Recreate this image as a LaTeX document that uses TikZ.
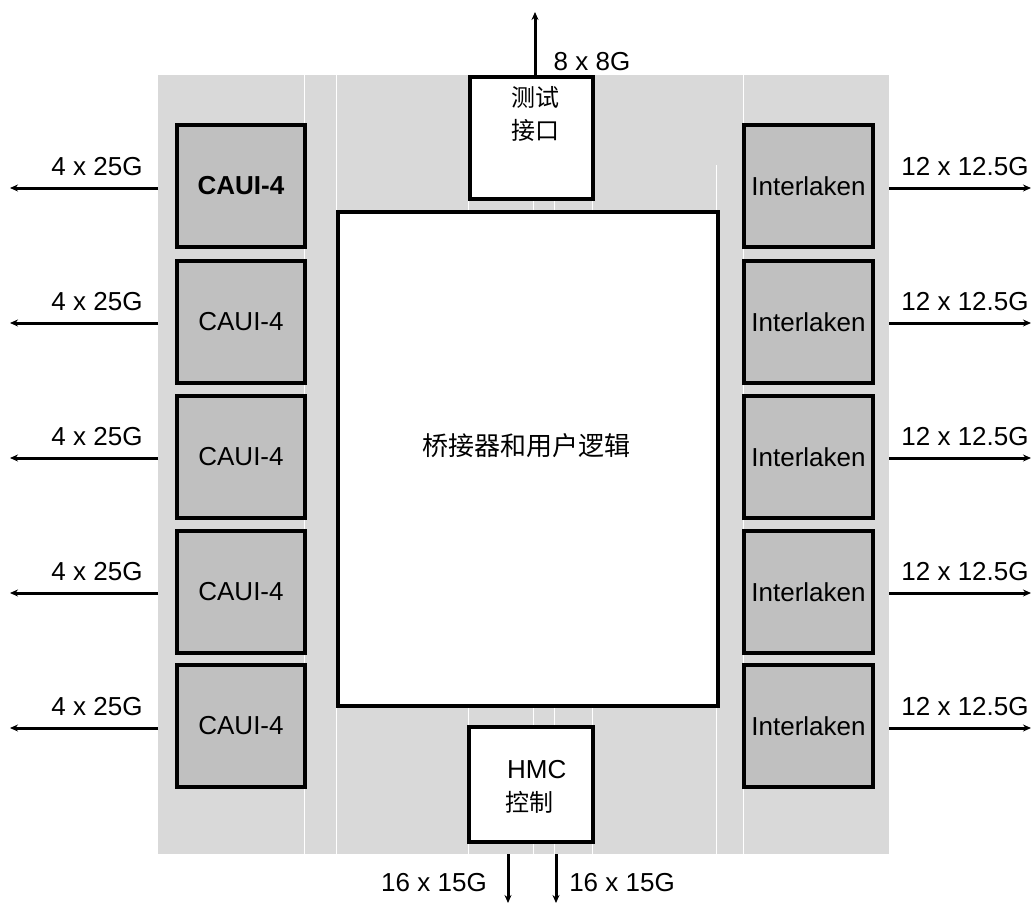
\documentclass[tikz,border=0pt]{standalone}
\usepackage{fontspec}
\setmainfont{Liberation Sans}
\newfontfamily\cjk{Noto Sans CJK SC}
\usetikzlibrary{arrows.meta}
\definecolor{bggray}{HTML}{D9D9D9}
\definecolor{boxgray}{HTML}{C0C0C0}
\tikzset{
  gbox/.style={draw=black, line width=3.5pt, fill=boxgray, minimum width=128pt, minimum height=122pt, inner sep=0pt, font=\fontsize{26}{31}\selectfont},
  wbox/.style={draw=black, line width=3.5pt, fill=white, inner sep=0pt},
  lbl/.style={font=\fontsize{26}{31}\selectfont, inner sep=0pt},
  cjklbl/.style={font=\fontsize{24}{33}\cjk, inner sep=0pt},
  link/.style={line width=3pt, -{Stealth[length=8pt,width=7pt]}},
  gap/.style={white, line width=0.9pt}
}
\begin{document}
\begin{tikzpicture}[x=1pt,y=-1pt]
\useasboundingbox (0,0) rectangle (1034,906);
\fill[bggray] (158,75) rectangle (889,854);
% faint white seams in the background
\foreach \xx in {304,336,743} \draw[gap] (\xx,75) -- (\xx,854);
\draw[gap] (716,165) -- (716,854);
\foreach \xx in {468,533,554,592} {\draw[gap] (\xx,199) -- (\xx,212); \draw[gap] (\xx,706) -- (\xx,854);}

% main block
\node[wbox, minimum width=380pt, minimum height=494pt] (main) at (528,459) {};
\node[cjklbl, font=\fontsize{26}{30}\cjk] (mainlbl) at (526,446) {桥接器和用户逻辑};

% test interface
\node[wbox, minimum width=123pt, minimum height=122pt] (test) at (531.5,138) {};
\node[cjklbl, align=center] (testlbl) at (535,114) {测试\\接口};

% HMC
\node[wbox, minimum width=124pt, minimum height=115pt] (hmc) at (531,784.5) {};
\node[lbl, anchor=west] (hmclbl) at (507,770) {HMC};
\node[cjklbl, anchor=west] (hmclbl2) at (505,802) {控制};

% CAUI boxes
\node[gbox, font=\fontsize{26}{31}\selectfont\bfseries] (c1) at (241,186) {CAUI-4};
\node[gbox] (c2) at (241,322) {CAUI-4};
\node[gbox] (c3) at (241,457) {CAUI-4};
\node[gbox] (c4) at (241,592) {CAUI-4};
\node[gbox] (c5) at (241,726) {CAUI-4};

% Interlaken boxes
\node[gbox, minimum width=129pt] (i1) at (808.5,186) {Interlaken};
\node[gbox, minimum width=129pt] (i2) at (808.5,322) {Interlaken};
\node[gbox, minimum width=129pt] (i3) at (808.5,457) {Interlaken};
\node[gbox, minimum width=129pt] (i4) at (808.5,592) {Interlaken};
\node[gbox, minimum width=129pt] (i5) at (808.5,726) {Interlaken};

% side links
\foreach \n/\yy in {1/188,2/323,3/458,4/593,5/728} {
  \coordinate (ls\n) at (158,\yy);
  \coordinate (le\n) at (10,\yy);
  \draw[link] (ls\n) -- (le\n);
  \node[lbl] (ll\n) at (97,\yy-21) {4 x 25G};
  \coordinate (rs\n) at (889,\yy);
  \coordinate (re\n) at (1031,\yy);
  \draw[link] (rs\n) -- (re\n);
  \node[lbl] (rl\n) at (965,\yy-21) {12 x 12.5G};
}

% top link
\coordinate (tend) at (535,12);
\draw[link] (test.north -| tend) -- (tend);
\node[lbl] (tl) at (592,62) {8 x 8G};

% bottom links
\coordinate (b1s) at (508,854);
\coordinate (b1e) at (508,903);
\coordinate (b2s) at (556,854);
\coordinate (b2e) at (556,903);
\draw[link] (b1s) -- (b1e);
\draw[link] (b2s) -- (b2e);
\node[lbl] (bl1) at (434,883) {16 x 15G};
\node[lbl] (bl2) at (622,883) {16 x 15G};
\end{tikzpicture}
\end{document}
